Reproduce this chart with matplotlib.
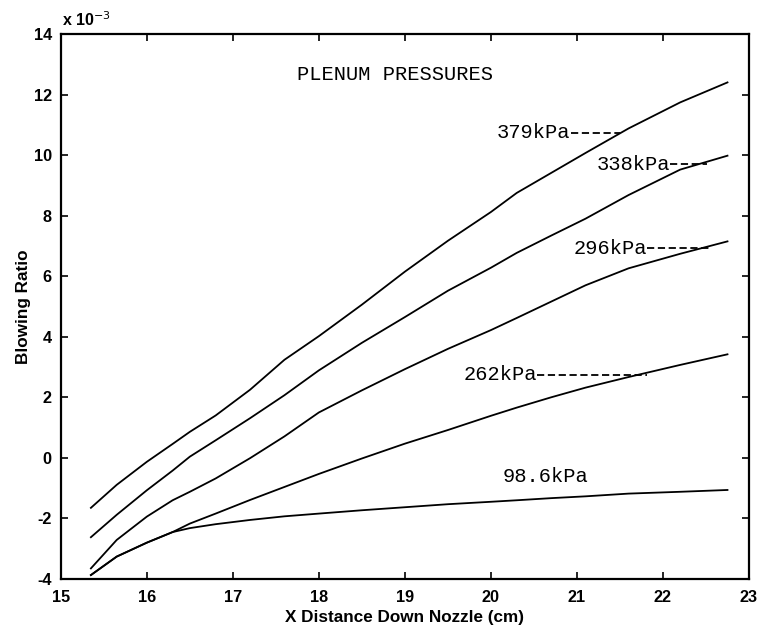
import matplotlib
matplotlib.use("Agg")
import matplotlib.pyplot as plt

# Data (blowing ratio in units of 1e-3)
x_cm = [15.35, 15.65, 16.0, 16.3, 16.5, 16.8, 17.2, 17.6, 18.0, 18.5,
        19.0, 19.5, 20.0, 20.3, 20.7, 21.1, 21.6, 22.2, 22.75]
br_379 = [-1.65, -0.89, -0.13, 0.46, 0.86, 1.40, 2.25, 3.24, 4.02, 5.06,
          6.15, 7.17, 8.12, 8.75, 9.41, 10.07, 10.88, 11.74, 12.40]
br_338 = [-2.62, -1.88, -1.07, -0.42, 0.04, 0.58, 1.31, 2.07, 2.89, 3.80,
          4.65, 5.52, 6.28, 6.77, 7.34, 7.90, 8.68, 9.52, 9.98]
br_296 = [-3.65, -2.71, -1.94, -1.40, -1.12, -0.68, -0.01, 0.71, 1.50, 2.23,
          2.93, 3.60, 4.22, 4.62, 5.16, 5.70, 6.26, 6.74, 7.15]
br_262 = [-3.87, -3.26, -2.80, -2.45, -2.17, -1.84, -1.39, -0.96, -0.53, -0.02,
          0.47, 0.92, 1.39, 1.66, 2.00, 2.32, 2.67, 3.07, 3.42]
br_986 = [-3.87, -3.26, -2.80, -2.45, -2.32, -2.19, -2.05, -1.93, -1.84, -1.73,
          -1.63, -1.53, -1.45, -1.40, -1.33, -1.27, -1.18, -1.12, -1.06]
series = [br_379, br_338, br_296, br_262, br_986]
labels = ["379kPa", "338kPa", "296kPa", "262kPa", "98.6kPa"]
x_ticks = [15, 16, 17, 18, 19, 20, 21, 22, 23]
y_ticks = [-4, -2, 0, 2, 4, 6, 8, 10, 12, 14]

fig = plt.figure(figsize=(7.6, 6.29), dpi=100)
ax = fig.add_axes([0.080, 0.0795, 0.9055, 0.8665])

for ys in series:
    ax.plot(x_cm, ys, color="black", lw=1.3)

ax.set_xlim(15, 23)
ax.set_ylim(-4, 14)
ax.set_xticks(x_ticks)
ax.set_yticks(y_ticks)
tickfont = dict(family="Liberation Sans", weight="bold", size=11.7)
ax.set_xticklabels([str(t) for t in x_ticks], **tickfont)
ax.set_yticklabels([str(t) for t in y_ticks], **tickfont)
ax.tick_params(direction="in", top=True, right=True, length=5, width=1.2)
ax.tick_params(axis="x", pad=8)
ax.tick_params(axis="y", pad=6.5)
for s in ax.spines.values():
    s.set_linewidth(1.6)

ax.set_xlabel("X Distance Down Nozzle (cm)", family="Liberation Sans",
              weight="bold", size=12.3, labelpad=3.5)
ax.set_ylabel("Blowing Ratio", family="Liberation Sans", weight="bold",
              size=12.3, labelpad=2)
ax.text(0.002, 1.01, "x 10$^{-3}$", transform=ax.transAxes, ha="left",
        va="bottom", family="Liberation Sans", weight="bold", size=11.5)

mono = dict(family="Liberation Mono", size=14.7, va="center", ha="left")
ax.text(17.74, 12.66, "PLENUM PRESSURES", **mono)

# labels with dashed leaders
dash = dict(color="black", lw=1.3, ls=(0, (4, 2)))
ax.text(20.07, 10.74, labels[0], **mono)
ax.plot([20.93, 21.5], [10.74, 10.74], **dash)
ax.text(21.23, 9.69, labels[1], **mono)
ax.plot([22.08, 22.51], [9.69, 9.69], **dash)
ax.text(20.96, 6.93, labels[2], **mono)
ax.plot([21.81, 22.55], [6.93, 6.93], **dash)
ax.text(19.68, 2.74, labels[3], **mono)
ax.plot([20.53, 21.81], [2.74, 2.74], **dash)
ax.text(20.14, -0.62, labels[4], **mono)

fig.savefig("out.png", dpi=100)
